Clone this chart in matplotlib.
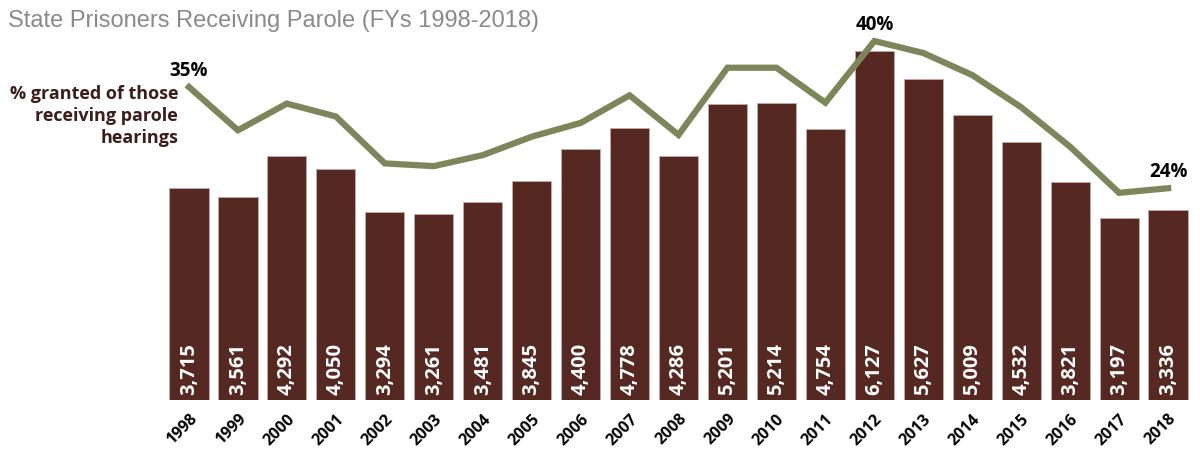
import numpy as np
import matplotlib.pyplot as plt

years = [str(y) for y in range(1998, 2019)]
paroled = [3715, 3561, 4292, 4050, 3294, 3261, 3481, 3845, 4400, 4778, 4286,
           5201, 5214, 4754, 6127, 5627, 5009, 4532, 3821, 3197, 3336]
# % granted of those receiving parole hearings (estimated from the line)
pct_granted = [35, 30.3, 33.2, 31.8, 26.7, 26.4, 27.6, 29.6, 31.1, 34.1, 29.8,
               37.1, 37.1, 33.3, 40, 38.7, 36.3, 32.8, 28.5, 23.5, 24]

bar_color = '#562822'
line_color = '#7d855a'

plt.rcParams['font.family'] = ['Open Sans', 'DejaVu Sans']

fig = plt.figure(figsize=(12, 4.5), dpi=100)
ax = fig.add_axes([165 / 1200, 50 / 450, 1030 / 1200, 370 / 450])
x = np.arange(len(years))

ax.bar(x, paroled, width=0.8, color=bar_color, edgecolor='#c9a9a6', linewidth=0.6)
for xi, v in zip(x, paroled):
    ax.text(xi, 80, f'{v:,}', rotation=90, ha='center', va='bottom',
            color='white', fontsize=14.5, fontweight='bold')

ax.set_xlim(-0.49, 20.55)
ax.set_ylim(0, 6496)
ax.set_yticks([])
ax.set_xticks(x)
ax.set_xticklabels(years, rotation=45, ha='right', rotation_mode='anchor',
                   fontsize=11.5, fontweight='bold')
ax.tick_params(axis='x', length=0, pad=8)
for s in ax.spines.values():
    s.set_visible(False)

ax2 = ax.twinx()
ax2.plot(x, pct_granted, color=line_color, linewidth=4.5, solid_joinstyle='miter')
ax2.set_ylim(0.98, 41.2)
ax2.set_yticks([])
for s in ax2.spines.values():
    s.set_visible(False)

# labels on the line
for i in [0, 14, 20]:
    ax2.text(x[i], pct_granted[i] + 0.7, f'{pct_granted[i]:.0f}%', ha='center',
             va='bottom', fontsize=13.5, fontweight='bold', color='black')

fig.text(178 / 1200, 1 - 85 / 450, '% granted of those\nreceiving parole\nhearings',
         ha='right', va='top', fontsize=13, fontweight='bold', color='#3b1d1a',
         linespacing=1.28)

fig.text(8 / 1200, 1 - 21 / 450, 'State Prisoners Receiving Parole (FYs 1998-2018)',
         ha='left', va='center', fontsize=17, color='#8a8a8a',
         family=['Liberation Sans', 'DejaVu Sans'])

fig.savefig('out.png', dpi=100)
